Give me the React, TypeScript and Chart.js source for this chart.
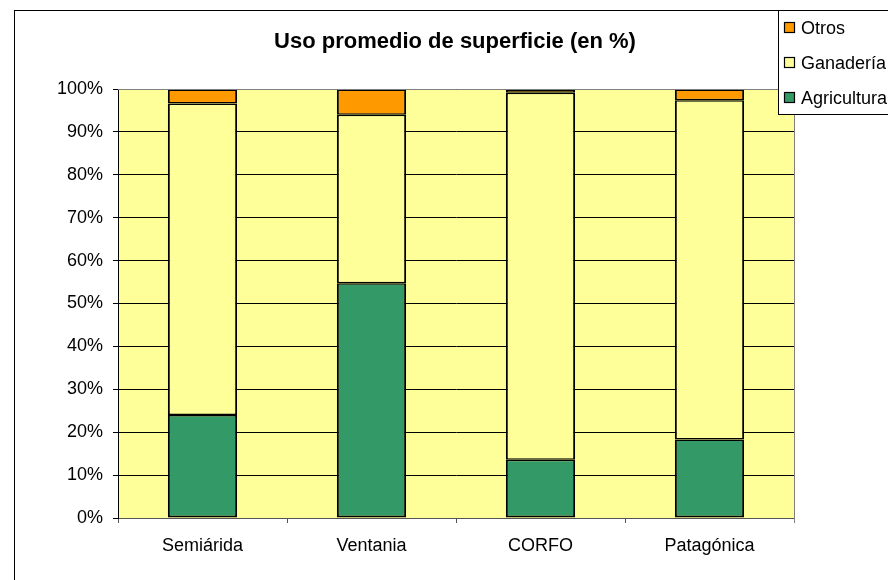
import React, { useEffect, useRef } from "react";
import { Chart, registerables } from "chart.js";

Chart.register(...registerables);

const TITLE = "Uso promedio de superficie (en %)";
const CATEGORIES = ["Semiárida", "Ventania", "CORFO", "Patagónica"];
const AGRICULTURA = [24.0, 54.7, 13.6, 18.3];
const GANADERIA = [72.6, 39.3, 85.5, 79.1];
const OTROS = [3.4, 6.0, 0.9, 2.6];
const SERIES_NAMES = ["Agricultura", "Ganadería", "Otros"];
const SERIES_COLORS = ["#339966", "#FFFF99", "#FF9900"];
const Y_MAX = 100;
const Y_STEP = 10;

const FONT = "'Liberation Sans', Arial, sans-serif";

const SEGMENT_BORDERS = [
  { top: 1.5, bottom: 2, left: 2, right: 2 },
  { top: 1.5, bottom: 1.5, left: 2, right: 2 },
  { top: 2, bottom: 1.5, left: 2, right: 2 },
];

const framePlugin = {
  id: "frame",
  beforeDraw(chart: any) {
    const { ctx, chartArea } = chart;
    ctx.save();
    ctx.fillStyle = "#ffffff";
    ctx.fillRect(0, 0, chart.width, chart.height);
    ctx.strokeStyle = "#000000";
    ctx.lineWidth = 1;
    ctx.strokeRect(14.5, 10.5, chart.width + 20, chart.height + 20);
    ctx.fillStyle = "#FFFF99";
    ctx.fillRect(chartArea.left, chartArea.top, chartArea.right - chartArea.left, chartArea.bottom - chartArea.top);
    ctx.restore();
  },
  afterDraw(chart: any) {
    const { ctx, chartArea } = chart;
    ctx.save();
    ctx.strokeStyle = "#808080";
    ctx.lineWidth = 1;
    ctx.beginPath();
    ctx.moveTo(chartArea.left, Math.round(chartArea.top) + 0.5);
    ctx.lineTo(Math.round(chartArea.right) + 0.5, Math.round(chartArea.top) + 0.5);
    ctx.lineTo(Math.round(chartArea.right) + 0.5, chartArea.bottom + 5);
    ctx.stroke();

    ctx.fillStyle = "#000000";
    ctx.font = `bold 22px ${FONT}`;
    ctx.textAlign = "center";
    ctx.textBaseline = "alphabetic";
    ctx.fillText(TITLE, 455, 48);

    const lx = 778.5;
    const ly = 10.5;
    ctx.fillStyle = "#ffffff";
    ctx.fillRect(lx, ly, 200, 104);
    ctx.strokeStyle = "#000000";
    ctx.strokeRect(lx, ly, 200, 104);
    const ds = chart.data.datasets.slice().reverse();
    const ys = [28, 63, 98];
    ctx.font = `18px ${FONT}`;
    ctx.textAlign = "left";
    ctx.textBaseline = "middle";
    ds.forEach((d: any, i: number) => {
      const cy = ys[i];
      ctx.fillStyle = d.backgroundColor;
      ctx.fillRect(784.5, cy - 5.5, 10, 10);
      ctx.strokeStyle = "#000000";
      ctx.lineWidth = 1.2;
      ctx.strokeRect(784.5, cy - 5.5, 10, 10);
      ctx.fillStyle = "#000000";
      ctx.fillText(d.label, 801, cy + 1);
    });
    ctx.restore();
  },
};

export default function App() {
  const ref = useRef<HTMLCanvasElement | null>(null);
  useEffect(() => {
    if (!ref.current) return;
    const values = [AGRICULTURA, GANADERIA, OTROS];
    const chart = new Chart(ref.current, {
      type: "bar",
      data: {
        labels: CATEGORIES,
        datasets: values.map((v, i) => ({
          label: SERIES_NAMES[i],
          data: v,
          backgroundColor: SERIES_COLORS[i],
          borderColor: "#000000",
          borderWidth: SEGMENT_BORDERS[i],
          borderSkipped: false,
          categoryPercentage: 1,
          barPercentage: 0.41,
        })),
      },
      options: {
        responsive: false,
        animation: false,
        layout: { padding: { top: 89, right: 94, left: 0, bottom: 0 } },
        plugins: {
          legend: { display: false },
          title: { display: false },
          tooltip: { enabled: false },
        },
        scales: {
          x: {
            stacked: true,
            grid: {
              display: true,
              drawOnChartArea: false,
              drawTicks: true,
              tickLength: 5,
              color: "#555555",
              offset: true,
            },
            border: { color: "#555555" },
            ticks: {
              color: "#000000",
              font: { family: FONT, size: 18 },
              padding: 12,
              maxRotation: 0,
            },
            afterFit(scale: any) {
              scale.height = 62;
            },
          },
          y: {
            stacked: true,
            min: 0,
            max: Y_MAX,
            grid: {
              color: "#000000",
              lineWidth: 1,
              tickLength: 5,
              drawTicks: true,
            },
            border: { color: "#000000" },
            ticks: {
              stepSize: Y_STEP,
              color: "#000000",
              font: { family: FONT, size: 18 },
              padding: 10,
              callback: (v: any) => `${v}%`,
            },
            afterFit(scale: any) {
              scale.width = 118;
            },
          },
        },
      },
      plugins: [framePlugin],
    });
    return () => chart.destroy();
  }, []);
  return (
    <div style={{ position: "absolute", left: 0, top: 0, width: 888, height: 580 }}>
      <canvas ref={ref} width={888} height={580} style={{ display: "block" }} />
    </div>
  );
}
